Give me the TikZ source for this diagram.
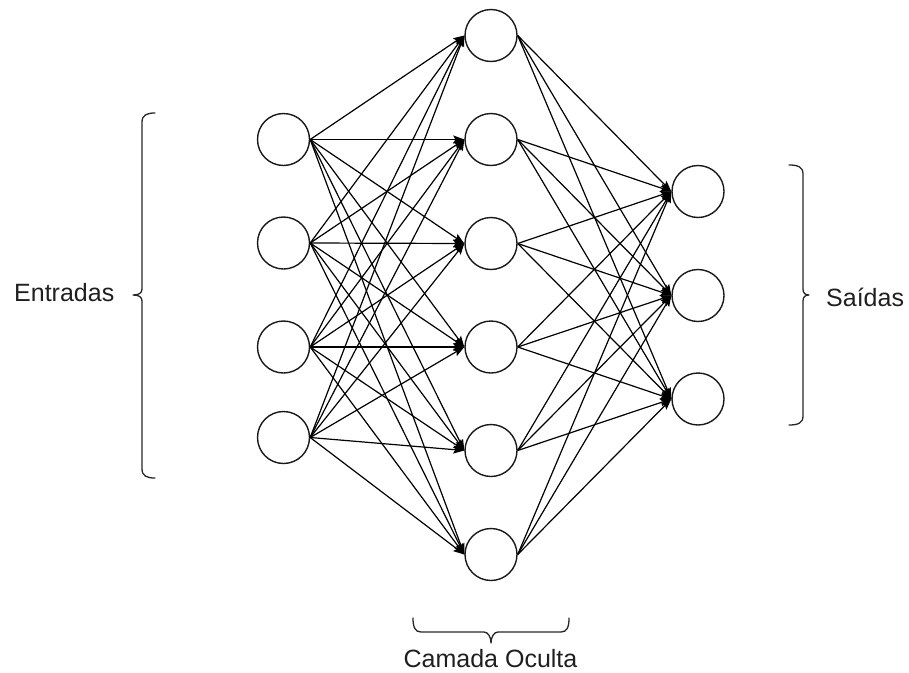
\documentclass[tikz,border=0pt]{standalone}
\usepackage{fontspec}
\setmainfont{Liberation Sans}
\usetikzlibrary{arrows.meta}
\begin{document}
\begin{tikzpicture}[x=1pt,y=-1pt,
  neuron/.style={circle,draw=black!90,line width=1.4pt,minimum size=52pt,inner sep=0pt,fill=white},
  link/.style={draw=black,line width=1.2pt,-{Stealth[length=11pt,width=8pt,inset=2pt]}},
  brace/.style={draw=black!85,line width=1.3pt,line join=round,line cap=round},
  label/.style={text=black!88,font=\fontsize{25}{30}\selectfont,inner sep=0pt}]
\useasboundingbox (0,0) rectangle (909,672);

% input layer
\foreach \i/\y in {1/139.5,2/243,3/347,4/437.5}
  \node[neuron] (in\i) at (283.5,\y) {};
% hidden layer
\foreach \i/\y in {1/35.5,2/139.5,3/243.5,4/347,5/450.5,6/554.5}
  \node[neuron] (hid\i) at (491,\y) {};
% output layer
\foreach \i/\y in {1/191.5,2/295.5,3/399}
  \node[neuron] (out\i) at (698,\y) {};

% connections
\foreach \i in {1,...,4}
  \foreach \j in {1,...,6}
    \draw[link] (in\i.east) -- (hid\j.west);
\foreach \j in {1,...,6}
  \foreach \k in {1,...,3}
    \draw[link] (hid\j.east) -- (out\k.west);

% braces
\draw[brace] (155,113) .. controls (147,113) and (142,115) .. (142,122) -- (142,289)
  .. controls (142,293) and (139,295) .. (133,295)
  .. controls (139,295) and (142,297) .. (142,301) -- (142,469)
  .. controls (142,476) and (147,478) .. (155,478);
\draw[brace] (789,165) .. controls (798,165) and (803,167) .. (803,174) -- (803,289)
  .. controls (803,293) and (805,295) .. (809,295)
  .. controls (805,295) and (803,297) .. (803,301) -- (803,416)
  .. controls (803,423) and (798,425) .. (789,425);
\draw[brace] (413,618) .. controls (413,627) and (415,632) .. (421,632) -- (484,632)
  .. controls (488,632) and (491,637) .. (491,643)
  .. controls (491,637) and (494,632) .. (498,632) -- (561,632)
  .. controls (567,632) and (569,627) .. (569,618);

% labels
\node[label,anchor=base west] (lin) at (14,301) {Entradas};
\node[label,anchor=base west] (lout) at (826,306) {Saídas};
\node[label,anchor=base] (lhid) at (490.5,667) {Camada Oculta};
\end{tikzpicture}
\end{document}
